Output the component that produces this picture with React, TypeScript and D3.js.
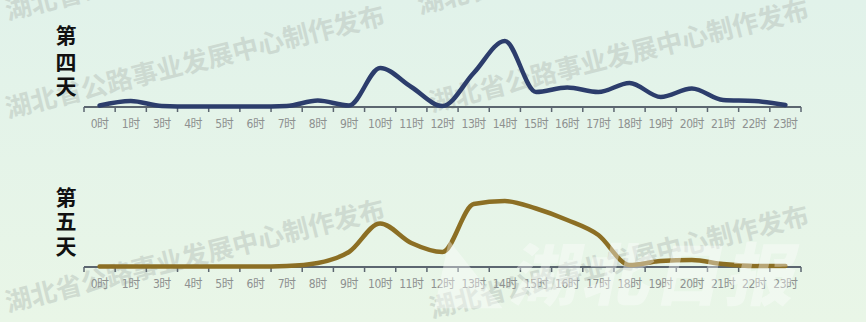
import React from "react";
import * as d3 from "d3";

const hours = ["0时","1时","3时","4时","5时","6时","7时","8时","9时","10时","11时","12时","13时","14时","15时","16时","17时","18时","19时","20时","21时","22时","23时"];
const day4 = [1.5, 6, 1, 0.5, 0.5, 0.5, 1, 6.5, 1.5, 39, 20, 1, 34, 66, 15, 19.5, 15, 24, 10, 18.5, 7, 6, 2];
const day5 = [0.5, 0.5, 0.5, 0.5, 0.5, 0.5, 1, 4, 15, 43.5, 24, 15, 63, 66, 58.5, 47, 32, 2, 6, 7, 3, 1, 1];
const panels = [
  { title: ["第", "四", "天"], values: day4, color: "#2c3d6c", base: 107, titleY: [34, 61, 85] },
  { title: ["第", "五", "天"], values: day5, color: "#8c6f24", base: 267, titleY: [196, 220, 245] },
];
const watermark = "湖北省公路事业发展中心制作发布";
const marks = [
  { x: 8, y: 118 }, { x: 432, y: 112 }, { x: 8, y: 312 }, { x: 432, y: 318 }, { x: 8, y: 20 }, { x: 420, y: 14 },
];

const W = 866, H = 322;

export default function App() {
  const x = d3.scaleBand<string>().domain(hours).range([84, 801]);
  const step = x.step();
  const ticks = d3.range(hours.length + 1).map((i) => (x(hours[0]) as number) + i * step);
  return (
    <svg width={W} height={H} style={{ position: "absolute", left: 0, top: 0, display: "block" }}>
      <defs>
        <linearGradient id="bg" x1="0" y1="0" x2="0" y2="1">
          <stop offset="0" stopColor="#e1f2ea" />
          <stop offset="1" stopColor="#e9f6e7" />
        </linearGradient>
      </defs>
      <rect width={W} height={H} fill="url(#bg)" />
      {marks.map((m, i) => (
        <text key={i} x={m.x} y={m.y} transform={`rotate(-14 ${m.x} ${m.y})`}
          fontFamily="Noto Sans CJK SC" fontWeight={700} fontSize={26} fill="#b3bdb6" opacity={0.45}>
          {watermark}
        </text>
      ))}
      {panels.map((p, pi) => {
        const y = d3.scaleLinear().domain([0, 80]).range([p.base, p.base - 80]);
        const line = d3.line<number>()
          .x((_, i) => (x(hours[i]) as number) + step / 2)
          .y((v) => y(v))
          .curve(d3.curveMonotoneX);
        return (
          <g key={pi}>
            {p.title.map((t, i) => (
              <text key={i} x={66} y={p.titleY[i]} textAnchor="middle" dominantBaseline="central"
                fontFamily="Noto Sans CJK SC" fontWeight={700} fontSize={21} fill="#111">{t}</text>
            ))}
            <line x1={84} x2={801} y1={p.base} y2={p.base} stroke="#5c6670" strokeWidth={2} />
            {ticks.map((t, i) => (
              <line key={i} x1={t} x2={t} y1={p.base} y2={p.base + 5} stroke="#5c6670" strokeWidth={1.5} />
            ))}
            {hours.map((h, i) => (
              <text key={h} x={(x(h) as number) + step / 2} y={p.base + 17} textAnchor="middle" dominantBaseline="central"
                fontFamily="DejaVu Sans Condensed, Noto Sans CJK SC" fontSize={12} letterSpacing={-0.5} fill="#8e9190">{h}</text>
            ))}
            <path d={line(p.values) || ""} fill="none" stroke={p.color} strokeWidth={4.5} strokeLinecap="round" strokeLinejoin="round" />
          </g>
        );
      })}
      <text x={500} y={300} fontFamily="Noto Sans CJK SC" fontWeight={900} fontSize={68} fill="#ffffff" opacity={0.38}
        transform="skewX(-12)" letterSpacing={4}>◣湖北日报</text>
    </svg>
  );
}
